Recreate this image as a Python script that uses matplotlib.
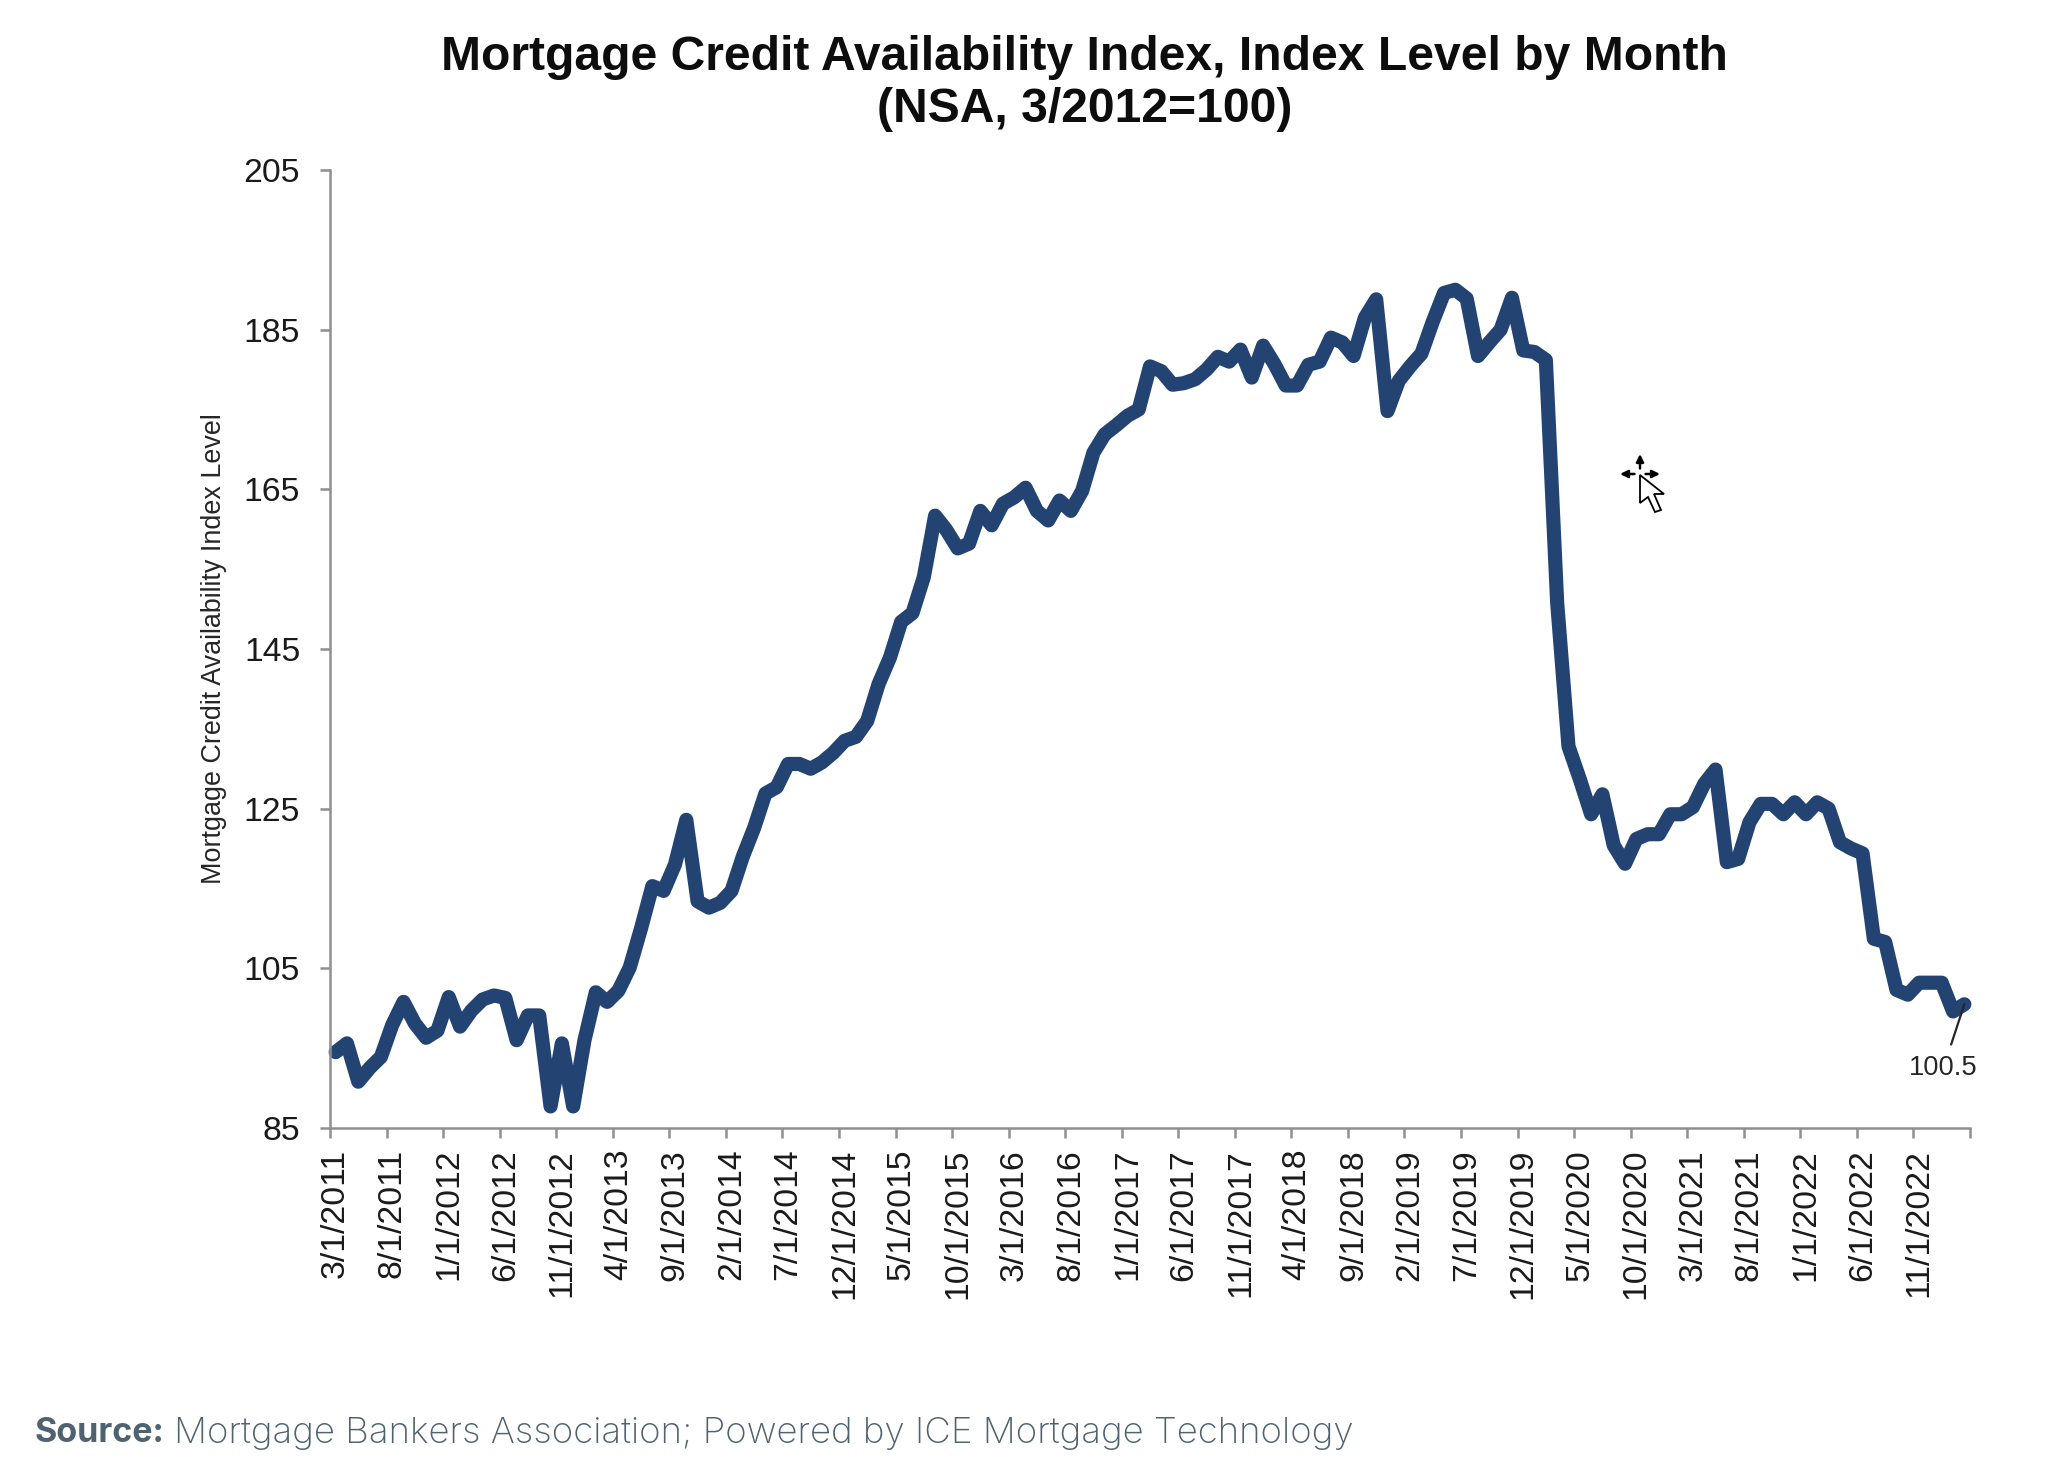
import matplotlib as mpl
mpl.use('Agg')
import matplotlib.pyplot as plt
from matplotlib.patches import Polygon
import numpy as np

mcai = [
    94.5, 95.6, 90.8, 92.5, 93.9, 97.9, 100.8, 98.1, 96.3, 97.2,
    101.4, 97.7, 99.7, 101.1, 101.6, 101.3, 96.0, 99.1, 99.1, 87.7,
    95.6, 87.7, 96.0, 102.0, 100.8, 102.2, 105.1, 110.0, 115.3, 114.7,
    118.0, 123.6, 113.4, 112.6, 113.2, 114.7, 119.0, 122.6, 126.9, 127.7,
    130.6, 130.6, 130.0, 130.8, 132.0, 133.5, 134.0, 136.0, 140.6, 143.9,
    148.4, 149.5, 154.0, 161.7, 159.9, 157.6, 158.2, 162.3, 160.5, 163.2,
    164.0, 165.2, 162.3, 161.1, 163.6, 162.3, 164.8, 169.6, 171.9, 173.0,
    174.2, 175.0, 180.4, 179.8, 178.1, 178.3, 178.8, 180.0, 181.6, 181.0,
    182.5, 179.0, 183.0, 180.7, 178.0, 178.0, 180.6, 181.0, 184.0, 183.4,
    181.7, 186.5, 188.8, 174.8, 178.6, 180.4, 182.0, 186.0, 189.6, 190.0,
    188.9, 181.7, 183.4, 185.0, 189.0, 182.4, 182.2, 181.2, 150.8, 132.8,
    128.7, 124.3, 126.8, 120.4, 118.1, 121.2, 121.8, 121.8, 124.3, 124.3,
    125.2, 128.1, 129.9, 118.3, 118.7, 123.3, 125.6, 125.6, 124.3, 125.8,
    124.3, 125.8, 125.0, 120.8, 120.0, 119.4, 108.7, 108.3, 102.3, 101.7,
    103.2, 103.2, 103.2, 99.6, 100.5,
]
x_labels = [
    '3/1/2011', '8/1/2011', '1/1/2012', '6/1/2012', '11/1/2012', '4/1/2013',
    '9/1/2013', '2/1/2014', '7/1/2014', '12/1/2014', '5/1/2015', '10/1/2015',
    '3/1/2016', '8/1/2016', '1/1/2017', '6/1/2017', '11/1/2017', '4/1/2018',
    '9/1/2018', '2/1/2019', '7/1/2019', '12/1/2019', '5/1/2020', '10/1/2020',
    '3/1/2021', '8/1/2021', '1/1/2022', '6/1/2022', '11/1/2022',
]
y_ticks = [85, 105, 125, 145, 165, 185, 205]

ARIAL = 'Liberation Sans'
LINE = '#234472'
AXIS = '#8f8f8f'
TEXT = '#1a1a1a'

W, H = 2050, 1458
fig = plt.figure(figsize=(W / 100, H / 100), dpi=100, facecolor='white')
ax = fig.add_axes([330 / W, 1 - 1128 / H, (1970 - 330) / W, (1128 - 170) / H])

xs = np.arange(len(mcai))
ax.plot(xs, mcai, color=LINE, linewidth=10.2, solid_capstyle='round',
        solid_joinstyle='round', clip_on=False)

ax.set_xlim(-0.5, len(mcai) - 0.5)
ax.set_ylim(85, 205)

for side in ['top', 'right']:
    ax.spines[side].set_visible(False)
for side in ['left', 'bottom']:
    ax.spines[side].set_color(AXIS)
    ax.spines[side].set_linewidth(1.8)

ax.set_yticks(y_ticks)
ax.tick_params(axis='y', length=7.5, width=1.8, color=AXIS, pad=14,
               labelsize=24.3, labelcolor=TEXT)
for lab in ax.get_yticklabels():
    lab.set_family(ARIAL)

# tick marks sit between months, labels on the month itself
ax.set_xticks(np.append(np.arange(len(x_labels)) * 5 - 0.5, len(mcai) - 0.5))
ax.set_xticklabels([])
ax.tick_params(axis='x', which='major', length=7.5, width=1.8, color=AXIS)
ax.set_xticks(np.arange(len(x_labels)) * 5, minor=True)
ax.set_xticklabels(x_labels, minor=True, rotation=90, family=ARIAL,
                   fontsize=24.3, color=TEXT)
ax.tick_params(axis='x', which='minor', length=0, pad=15)

ax.set_ylabel('Mortgage Credit Availability Index Level', family=ARIAL,
              fontsize=19.4, color='#262626')
ax.yaxis.set_label_coords((227 - 330) / (1970 - 330), 0.5)

ax.annotate('100.5', xy=(xs[-1], mcai[-1]), xytext=(-21, -64),
            textcoords='offset pixels', family=ARIAL, fontsize=19.6,
            color='#262626', ha='center', va='center',
            arrowprops=dict(arrowstyle='-', color='#262626', lw=1.6,
                            shrinkA=6, shrinkB=0))

fig.text(1084 / W, 1 - 57 / H, 'Mortgage Credit Availability Index, Index Level by Month',
         family=ARIAL, fontweight='bold', fontsize=34.6, ha='center', va='center',
         color='#0d0d0d')
fig.text(1085 / W, 1 - 110 / H, '(NSA, 3/2012=100)', family=ARIAL, fontweight='bold',
         fontsize=34.6, ha='center', va='center', color='#0d0d0d')

fig.text(35 / W, 1 - 1433 / H, 'Source:', family='Inter', fontweight='bold',
         fontsize=24.5, va='center', color='#4e6270')
fig.text(174 / W, 1 - 1433 / H, 'Mortgage Bankers Association; Powered by ICE Mortgage Technology',
         family='Inter', fontweight='light', fontsize=26.4, va='center', color='#4e6270')

# stray mouse pointer captured in the screenshot
cursor = fig.add_axes([0, 0, 1, 1], facecolor='none')
cursor.set_xlim(0, W)
cursor.set_ylim(H, 0)
cursor.axis('off')
for dx, dy in [(-20, 0), (20, 0), (0, -20)]:
    cursor.annotate('', xy=(1640 + dx, 474 + dy), xytext=(1640, 474),
                    arrowprops=dict(arrowstyle='-|>', color='black', lw=1.8,
                                    mutation_scale=11, shrinkA=4, shrinkB=0))
cursor.add_patch(Polygon([(1640, 475), (1640, 503), (1648, 497), (1655, 512), (1661, 510),
                          (1654, 494), (1664, 494)], closed=True, facecolor='white',
                         edgecolor='black', linewidth=1.3))

fig.savefig('out.png', dpi=100)
